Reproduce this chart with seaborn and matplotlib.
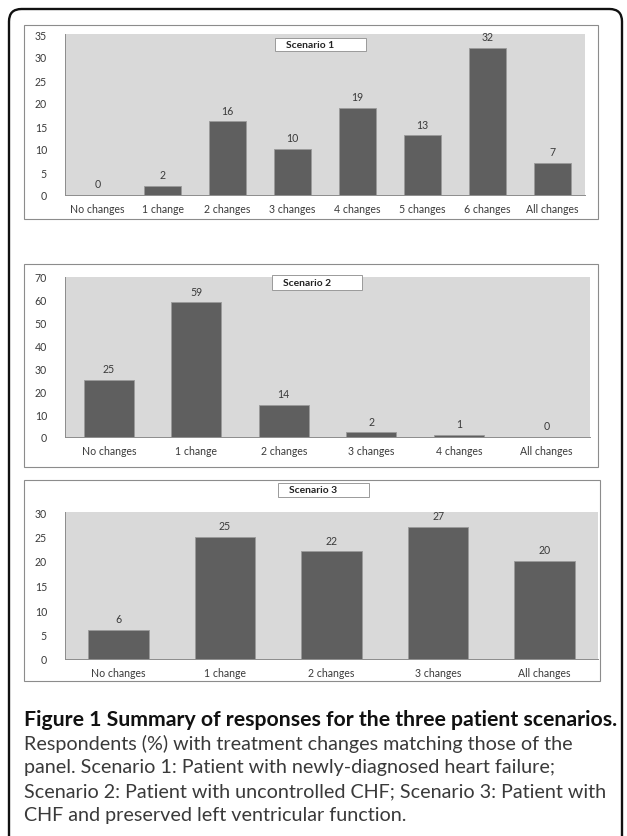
import matplotlib
matplotlib.use("Agg")
import matplotlib.pyplot as plt
from matplotlib.patches import Rectangle, FancyBboxPatch
import seaborn as sns
import pandas as pd

# ---- data ----
cats1 = ["No changes", "1 change", "2 changes", "3 changes", "4 changes",
         "5 changes", "6 changes", "All changes"]
vals1 = [0, 2, 16, 10, 19, 13, 32, 7]
cats2 = ["No changes", "1 change", "2 changes", "3 changes", "4 changes", "All changes"]
vals2 = [25, 59, 14, 2, 1, 0]
cats3 = ["No changes", "1 change", "2 changes", "3 changes", "All changes"]
vals3 = [6, 25, 22, 27, 20]
titles = ["Scenario 1", "Scenario 2", "Scenario 3"]
yticks1 = list(range(0, 36, 5))
yticks2 = list(range(0, 71, 10))
yticks3 = list(range(0, 31, 5))

sns.set_theme(style="white")
plt.rcParams['font.family'] = ['Lato', 'DejaVu Sans']

W, H = 627, 837
fig = plt.figure(figsize=(W / 100, H / 100), dpi=100)
fig.patch.set_facecolor("white")


def rect(x0, y0, x1, y1):
    return [x0 / W, 1 - y1 / H, (x1 - x0) / W, (y1 - y0) / H]


# outer rounded frame
frame = FancyBboxPatch((9 / W, -0.05), (622 - 9) / W, (1 - 10 / H) + 0.05,
                       boxstyle="round,pad=0,rounding_size=0.02",
                       transform=fig.transFigure, fill=False,
                       edgecolor="#111111", linewidth=1.7, mutation_aspect=W / H)
fig.patches.append(frame)

panels = [
    dict(cats=cats1, vals=vals1, ticks=yticks1, box=(24, 26, 598, 220),
         ax=(65, 35, 585, 196), tbox=(275, 39, 366, 52), title=titles[0]),
    dict(cats=cats2, vals=vals2, ticks=yticks2, box=(24, 265, 598, 468),
         ax=(65, 278, 590, 438), tbox=(272, 276, 362, 291), title=titles[1]),
    dict(cats=cats3, vals=vals3, ticks=yticks3, box=(24, 481, 600, 682),
         ax=(65, 513, 598, 660), tbox=(278, 484, 369, 498), title=titles[2]),
]

FS = 7.6
for p in panels:
    bx = p["box"]
    fig.patches.append(Rectangle((bx[0] / W, 1 - bx[3] / H), (bx[2] - bx[0]) / W,
                                 (bx[3] - bx[1]) / H, transform=fig.transFigure,
                                 fill=False, edgecolor="#8c8c8c", linewidth=0.8))
    ax = fig.add_axes(rect(*p["ax"]))
    df = pd.DataFrame({"cat": p["cats"], "val": p["vals"]})
    sns.barplot(data=df, x="cat", y="val", ax=ax, color="#5f5f5f",
                saturation=1, width=0.57, edgecolor="#9a9a9a", linewidth=0.6)
    ax.set_facecolor("#d9d9d9")
    ax.set_ylim(0, p["ticks"][-1])
    ax.set_yticks(p["ticks"])
    ax.set_xlabel("")
    ax.set_ylabel("")
    for s in ["top", "right"]:
        ax.spines[s].set_visible(False)
    for s in ["left", "bottom"]:
        ax.spines[s].set_color("#8c8c8c")
        ax.spines[s].set_linewidth(0.7)
    ax.tick_params(axis="both", length=0, labelsize=FS, colors="#3a3a3a")
    ax.tick_params(axis="y", pad=13)
    ax.tick_params(axis="x", pad=6)
    ax.bar_label(ax.containers[0], fontsize=FS, color="#3a3a3a", padding=4)
    tb = p["tbox"]
    fig.patches.append(Rectangle((tb[0] / W, 1 - tb[3] / H), (tb[2] - tb[0]) / W,
                                 (tb[3] - tb[1]) / H, transform=fig.transFigure,
                                 facecolor="white", edgecolor="#9a9a9a", linewidth=0.7,
                                 zorder=5))
    fig.text((tb[0] + 11) / W, 1 - ((tb[1] + tb[3]) / 2) / H, p["title"],
             fontsize=7.4, fontweight="bold", color="#222222", va="center",
             ha="left", zorder=6)

# caption
fig.text(24 / W, 1 - 720 / H, "Figure 1 Summary of responses for the three patient scenarios.",
         fontsize=15.3, fontweight="bold", color="#111111", va="center", ha="left")
cap_lines = [
    "Respondents (%) with treatment changes matching those of the",
    "panel. Scenario 1: Patient with newly-diagnosed heart failure;",
    "Scenario 2: Patient with uncontrolled CHF; Scenario 3: Patient with",
    "CHF and preserved left ventricular function.",
]
for i, line in enumerate(cap_lines):
    fig.text(24 / W, 1 - (744 + 24 * i) / H, line, fontsize=14.2,
             color="#3a3a3a", va="center", ha="left")

fig.savefig("out.png", dpi=100)
